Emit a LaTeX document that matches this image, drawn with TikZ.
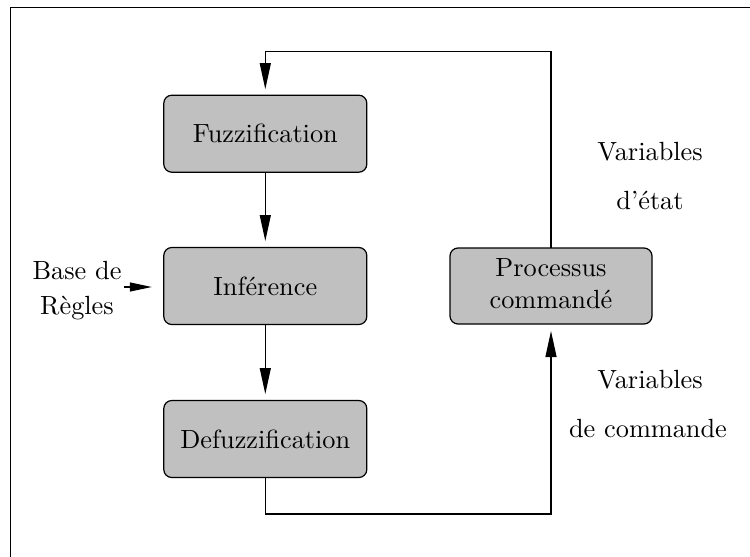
\documentclass[tikz,border=0pt]{standalone}
\usepackage{graphicx}
\usetikzlibrary{arrows.meta}
\definecolor{boxgray}{RGB}{192,192,192}
\newcommand{\bigtxt}[1]{\scalebox{2.63}{#1}}
\begin{document}
\begin{tikzpicture}[x=1pt,y=-1pt,
  every node/.style={font=\fontsize{10}{12.2}\selectfont},
  blockbox/.style={draw, line width=1.2pt, fill=boxgray, rounded corners=8pt,
    minimum width=203pt, minimum height=77pt, inner sep=0pt, outer sep=0pt, align=center},
  conn/.style={line width=1.2pt},
  arr/.style={conn, -{Triangle[length=26pt,width=11pt]}},
  lbl/.style={inner sep=0pt, anchor=base}]
\useasboundingbox (0,0) rectangle (750,557);
\draw[line width=1.2pt] (10.5,560) -- (10.5,7.5) -- (752,7.5);

\node[blockbox] (F) at (265.3,133.7) {\bigtxt{Fuzzification}};
\node[blockbox] (I) at (265.3,286) {\bigtxt{Inférence}};
\node[blockbox] (D) at (265.3,439) {\bigtxt{Defuzzification}};
\node[blockbox, minimum width=202pt, minimum height=76pt] (P) at (551,286)
  {\bigtxt{\begin{tabular}{@{}c@{}}Processus\\[-0.3pt]commandé\end{tabular}}};

\coordinate (top) at (265.3,51.5);
\coordinate (bot) at (551,514);
\coordinate (bstart) at (124,287);

\draw[arr, shorten >=6pt] (P.north) |- (top) -- (F.north);
\draw[arr, shorten >=6.5pt] (F.south) -- (I.north);
\draw[arr, shorten >=6.5pt] (I.south) -- (D.north);
\draw[arr, shorten >=7pt] (D.south) |- (bot) -- (P.south);
\draw[conn, -{Triangle[length=22pt,width=9pt]}, shorten >=12pt] (bstart) -- (bstart -| I.west);

\node[lbl] (b1) at (77,279) {\bigtxt{Base de}};
\node[lbl] (b2) at (77,314) {\bigtxt{Règles}};
\node[lbl] (v1) at (650,160) {\bigtxt{Variables}};
\node[lbl] (v2) at (650,209.5) {\bigtxt{d’état}};
\node[lbl] (v3) at (650,388) {\bigtxt{Variables}};
\node[lbl] (v4) at (648,437) {\bigtxt{de commande}};
\end{tikzpicture}
\end{document}
